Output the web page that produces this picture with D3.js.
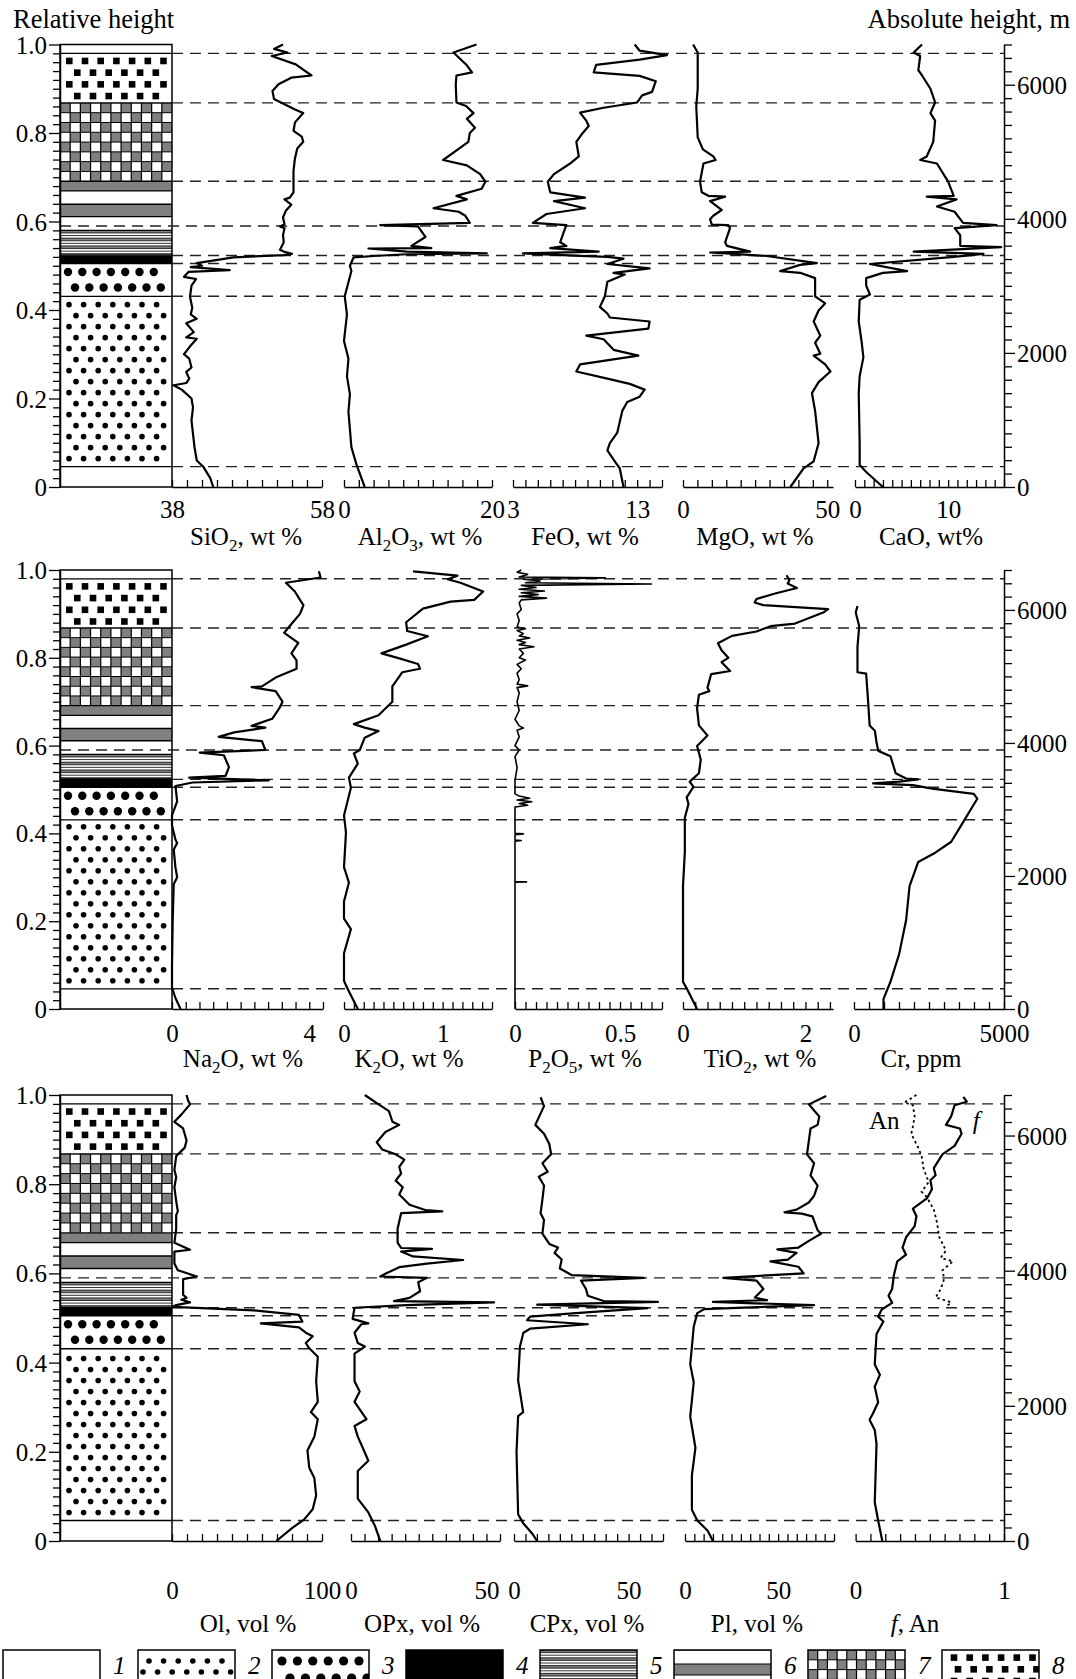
<!DOCTYPE html>
<html><head><meta charset="utf-8">
<script src="https://cdn.jsdelivr.net/npm/d3@7"></script>
<style>
body{margin:0;background:#fff}
svg{display:block}
text{font-family:"Liberation Serif","Times New Roman",Times,serif;fill:#000}
</style></head>
<body><svg id="chart" width="1076" height="1679"></svg>
<script>
// ---------------- DATA ----------------
const relTicksMajor = [0, 0.2, 0.4, 0.6, 0.8, 1.0];
const absTicksMajor = [0, 2000, 4000, 6000];
const absTop = 6600;
const dashedLevels = [0.980, 0.868, 0.691, 0.590, 0.523, 0.505, 0.431, 0.046];
const layerBounds = [0, 0.046, 0.431, 0.505, 0.524, 0.580, 0.611, 0.639, 0.669, 0.691, 0.868, 0.980, 1.0];
const layerTypes  = ["white","smallDots","bigDots","black","stripes","white","grey","white","grey","checker","squares","white"];
const legendNumbers = ["1","2","3","4","5","6","7","8"];
const legendTypes = ["white","smallDots","bigDots","black","stripes","bands","checker","squares"];

// [relative height, value]
const sio2 = [[1.0,52.8],[0.99,51.6],[0.982,53.4],[0.974,51.3],[0.955,54.5],[0.93,56.6],[0.925,53.9],[0.91,52.2],[0.895,51.4],[0.877,51.6],[0.865,53.0],[0.853,54.4],[0.845,55.5],[0.824,54.4],[0.805,54.2],[0.792,55.3],[0.78,55.5],[0.765,54.7],[0.743,54.4],[0.715,54.2],[0.69,54.2],[0.666,54.2],[0.654,53.7],[0.65,53.0],[0.638,53.9],[0.625,53.2],[0.609,52.8],[0.594,53.0],[0.589,52.4],[0.585,53.0],[0.569,52.8],[0.553,52.9],[0.536,52.4],[0.532,52.9],[0.527,54.0],[0.524,52.9],[0.519,46.2],[0.506,41.3],[0.5,42.0],[0.497,40.5],[0.49,45.7],[0.486,40.2],[0.475,39.6],[0.47,41.2],[0.455,40.6],[0.43,40.4],[0.405,40.7],[0.39,40.5],[0.38,41.3],[0.37,39.9],[0.35,40.9],[0.338,39.9],[0.335,41.3],[0.32,40.5],[0.3,39.6],[0.29,40.3],[0.27,40.6],[0.26,39.9],[0.245,40.3],[0.235,39.9],[0.23,38.2],[0.22,39.3],[0.2,40.6],[0.18,40.8],[0.15,40.6],[0.12,40.8],[0.09,41.0],[0.06,41.3],[0.045,42.2],[0.02,43.1],[0,43.5]];
const al2o3 = [[1.0,17.9],[0.982,14.8],[0.953,16.6],[0.937,17.3],[0.93,15.2],[0.909,15.1],[0.869,15.2],[0.861,16.5],[0.845,17.5],[0.832,16.6],[0.812,17.7],[0.8,17.0],[0.78,16.8],[0.763,15.4],[0.739,13.4],[0.727,16.6],[0.707,18.4],[0.69,19.1],[0.674,18.6],[0.658,15.2],[0.65,16.6],[0.63,12.1],[0.622,15.5],[0.613,16.4],[0.597,17.0],[0.592,4.9],[0.589,10.0],[0.565,11.0],[0.545,9.1],[0.54,11.8],[0.539,3.3],[0.532,8.5],[0.528,19.3],[0.526,8.5],[0.522,4.0],[0.519,1.3],[0.5,0.8],[0.488,1.0],[0.431,0.1],[0.39,0.4],[0.33,0.0],[0.29,0.6],[0.25,0.4],[0.21,0.8],[0.17,0.6],[0.13,0.8],[0.09,1.0],[0.05,1.7],[0,2.8]];
const feo = [[1.0,12.8],[0.986,13.2],[0.976,15.4],[0.966,13.2],[0.954,9.7],[0.937,9.5],[0.929,13.2],[0.917,14.5],[0.893,14.2],[0.885,13.4],[0.869,13.0],[0.857,10.3],[0.846,8.4],[0.828,8.9],[0.816,9.1],[0.796,8.5],[0.78,8.1],[0.747,8.3],[0.731,7.6],[0.707,6.3],[0.69,5.8],[0.666,6.0],[0.654,8.8],[0.646,6.3],[0.63,8.8],[0.617,5.7],[0.597,4.6],[0.592,7.3],[0.577,7.1],[0.553,6.8],[0.545,7.3],[0.54,6.0],[0.532,9.9],[0.528,3.8],[0.523,7.9],[0.52,10.6],[0.516,11.9],[0.504,10.6],[0.494,14.0],[0.484,11.1],[0.48,12.0],[0.464,10.6],[0.431,10.4],[0.407,10.0],[0.392,10.6],[0.383,10.8],[0.374,14.0],[0.358,13.9],[0.342,8.9],[0.334,10.3],[0.31,11.1],[0.297,13.1],[0.277,8.4],[0.261,8.1],[0.245,10.6],[0.233,12.4],[0.22,13.6],[0.204,13.2],[0.192,12.2],[0.172,11.8],[0.123,11.4],[0.099,10.8],[0.083,10.6],[0.062,11.1],[0.042,11.6],[0,11.9]];
const mgo = [[1.0,3.5],[0.982,5.1],[0.9,5.1],[0.86,4.6],[0.79,5.1],[0.763,6.9],[0.747,10.5],[0.739,11.3],[0.731,7.1],[0.69,5.9],[0.666,6.5],[0.658,8.8],[0.656,14.6],[0.646,9.4],[0.626,13.4],[0.613,10.5],[0.605,9.4],[0.593,10.0],[0.592,15.7],[0.585,16.3],[0.553,14.6],[0.545,15.2],[0.532,23.3],[0.53,9.4],[0.527,17.5],[0.522,29.1],[0.506,46.4],[0.502,40.6],[0.488,33.7],[0.484,40.6],[0.472,45.8],[0.431,45.8],[0.415,49.3],[0.399,47.0],[0.374,45.3],[0.342,47.6],[0.326,45.8],[0.301,47.6],[0.297,45.3],[0.277,49.3],[0.261,51.1],[0.237,47.0],[0.212,44.7],[0.172,45.8],[0.099,47.0],[0.058,45.3],[0.042,41.8],[0,37.2]];
const cao = [[1.0,7.2],[0.982,6.3],[0.974,7.0],[0.942,6.8],[0.93,7.2],[0.9,8.1],[0.869,8.6],[0.845,8.1],[0.828,8.6],[0.78,8.4],[0.747,7.7],[0.739,7.0],[0.731,8.8],[0.69,10.0],[0.658,10.6],[0.656,7.7],[0.65,10.9],[0.634,8.8],[0.622,10.7],[0.597,11.6],[0.592,15.2],[0.585,10.7],[0.569,11.3],[0.545,11.3],[0.542,15.7],[0.532,6.3],[0.527,13.8],[0.52,10.6],[0.504,1.6],[0.488,5.6],[0.484,3.0],[0.472,1.2],[0.455,1.2],[0.435,1.6],[0.423,0.5],[0.374,0.4],[0.33,0.7],[0.293,0.9],[0.25,0.5],[0.212,0.4],[0.1,0.5],[0.05,0.5],[0.034,1.2],[0,3.0]];

const na2o = [[0.997,4.28],[0.983,4.33],[0.971,3.32],[0.951,3.58],[0.932,3.73],[0.92,3.83],[0.9,3.73],[0.877,3.48],[0.857,3.27],[0.834,3.68],[0.81,3.48],[0.794,3.63],[0.775,3.63],[0.755,3.02],[0.735,2.62],[0.733,2.32],[0.724,3.02],[0.7,3.22],[0.684,3.12],[0.661,2.92],[0.645,2.32],[0.641,2.72],[0.63,1.81],[0.62,1.36],[0.61,2.62],[0.59,2.72],[0.584,0.81],[0.578,1.51],[0.551,1.66],[0.531,1.56],[0.527,0.5],[0.521,2.82],[0.516,0.6],[0.508,0.1],[0.473,0.15],[0.441,0.0],[0.418,0.0],[0.386,0.1],[0.378,0.15],[0.363,0.05],[0.323,0.1],[0.3,0.15],[0.284,0.05],[0.2,0.02],[0.1,0.0],[0.049,0.0],[0.025,0.1],[0,0.25]];
const k2o = [[0.997,0.70],[0.987,1.15],[0.979,1.05],[0.971,1.18],[0.951,1.41],[0.932,1.32],[0.928,1.08],[0.912,0.80],[0.881,0.63],[0.861,0.64],[0.849,0.85],[0.83,0.63],[0.81,0.38],[0.798,0.57],[0.786,0.75],[0.775,0.77],[0.767,0.59],[0.735,0.49],[0.7,0.49],[0.669,0.35],[0.649,0.10],[0.641,0.21],[0.633,0.35],[0.618,0.21],[0.59,0.16],[0.582,0.10],[0.559,0.14],[0.527,0.05],[0.504,0.07],[0.441,0.0],[0.402,0.02],[0.323,0.0],[0.288,0.05],[0.245,0.0],[0.206,0.0],[0.182,0.07],[0.127,0.0],[0.064,0.0],[0.049,0.03],[0,0.14]];
const p2o5 = [[1.0,0.03],[0.995,0.01],[0.99,0.06],[0.984,0.02],[0.982,0.43],[0.979,0.04],[0.975,0.12],[0.971,0.05],[0.968,0.65],[0.965,0.03],[0.96,0.1],[0.956,0.02],[0.952,0.14],[0.948,0.03],[0.944,0.11],[0.94,0.02],[0.936,0.15],[0.932,0.03],[0.925,0.02],[0.91,0.03],[0.9,0.01],[0.885,0.02],[0.87,0.01],[0.866,0.05],[0.862,0.01],[0.855,0.04],[0.85,0.02],[0.845,0.07],[0.84,0.01],[0.835,0.05],[0.83,0.02],[0.825,0.09],[0.82,0.02],[0.81,0.04],[0.8,0.02],[0.795,0.05],[0.785,0.01],[0.775,0.03],[0.765,0.01],[0.75,0.02],[0.74,0.01],[0.736,0.06],[0.732,0.01],[0.72,0.02],[0.7,0.01],[0.68,0.02],[0.66,0.0],[0.645,0.02],[0.64,0.04],[0.635,0.01],[0.62,0.02],[0.6,0.0],[0.59,0.02],[0.575,0.0],[0.55,0.01],[0.52,0.0],[0.49,0.0],[0.485,0.02],[0.48,0.07],[0.476,0.01],[0.472,0.08],[0.468,0.02],[0.464,0.06],[0.46,0.0],[0.45,0.0],[0.4,0.0],[0.399,0.04],[0.397,0.0],[0.385,0.0],[0.384,0.03],[0.382,0.0],[0.29,0.0],[0.2895,0.055],[0.289,0.0],[0,0.0]];
const tio2 = [[0.988,1.69],[0.977,1.74],[0.969,1.71],[0.959,1.86],[0.946,1.49],[0.934,1.2],[0.926,1.17],[0.92,1.31],[0.911,2.37],[0.903,2.29],[0.878,1.83],[0.872,1.43],[0.86,1.2],[0.85,0.8],[0.833,0.57],[0.817,0.63],[0.8,0.74],[0.79,0.63],[0.77,0.77],[0.763,0.46],[0.732,0.4],[0.724,0.43],[0.716,0.26],[0.685,0.23],[0.646,0.26],[0.623,0.4],[0.599,0.23],[0.568,0.29],[0.537,0.26],[0.518,0.11],[0.506,0.17],[0.482,0.06],[0.467,0.09],[0.436,0.03],[0.358,0.03],[0.28,0.0],[0.062,0.0],[0.047,0.06],[0,0.23]];
const cr = [[0.918,116],[0.903,58],[0.872,174],[0.825,116],[0.767,116],[0.764,405],[0.708,463],[0.646,521],[0.634,694],[0.607,752],[0.588,810],[0.576,1215],[0.537,1389],[0.525,1736],[0.523,2141],[0.518,1500],[0.514,637],[0.51,1968],[0.502,2604],[0.49,3993],[0.479,4109],[0.42,3588],[0.381,3241],[0.354,2662],[0.335,2141],[0.28,1852],[0.202,1736],[0.125,1505],[0.062,1215],[0.023,984],[0,984]];

const ol = [[1.0,9.7],[0.987,10.8],[0.979,12.0],[0.956,6.2],[0.94,1.6],[0.925,7.4],[0.898,9.7],[0.882,8.5],[0.863,2.8],[0.832,1.6],[0.816,2.8],[0.793,1.6],[0.762,2.8],[0.739,3.9],[0.731,2.8],[0.7,2.8],[0.669,1.6],[0.653,12.0],[0.649,1.6],[0.622,1.6],[0.607,3.9],[0.593,16.6],[0.587,7.4],[0.552,7.4],[0.545,9.7],[0.541,6.2],[0.535,12.0],[0.529,2.8],[0.525,0.5],[0.517,54.6],[0.507,84.6],[0.492,86.9],[0.488,59.2],[0.479,84.6],[0.467,89.2],[0.459,93.8],[0.444,89.2],[0.432,91.5],[0.413,97.2],[0.358,96.1],[0.312,97.2],[0.289,92.6],[0.273,97.2],[0.234,94.9],[0.203,90.3],[0.164,91.5],[0.141,94.9],[0.102,96.1],[0.071,93.8],[0.048,88.0],[0.029,80.0],[0,69.6]];
const opx = [[1.0,5.1],[0.979,10.2],[0.964,14.0],[0.94,15.3],[0.933,17.8],[0.917,12.7],[0.894,9.5],[0.878,11.5],[0.867,16.5],[0.855,19.7],[0.839,17.8],[0.824,18.5],[0.808,16.5],[0.793,19.1],[0.777,17.8],[0.754,21.6],[0.742,27.4],[0.739,33.7],[0.735,18.5],[0.7,17.2],[0.669,17.2],[0.657,18.5],[0.655,29.9],[0.649,18.5],[0.638,22.9],[0.63,41.4],[0.622,28.0],[0.614,17.8],[0.599,12.7],[0.593,10.8],[0.59,28.0],[0.58,24.8],[0.56,25.5],[0.545,21.6],[0.538,15.9],[0.535,52.8],[0.529,20.4],[0.523,1.3],[0.498,0.6],[0.488,6.4],[0.486,3.8],[0.467,1.3],[0.444,2.5],[0.436,5.1],[0.42,1.3],[0.358,1.3],[0.335,3.2],[0.312,1.3],[0.273,5.7],[0.258,1.3],[0.234,2.5],[0.207,4.5],[0.18,6.4],[0.157,2.5],[0.095,2.5],[0.064,6.4],[0.033,8.9],[0,10.8]];
const cpx = [[0.995,11.6],[0.975,13.1],[0.933,9.3],[0.913,13.1],[0.89,15.4],[0.867,16.2],[0.847,12.4],[0.828,14.7],[0.817,10.8],[0.797,13.1],[0.766,12.4],[0.735,11.6],[0.72,13.1],[0.689,12.4],[0.666,15.4],[0.658,19.2],[0.646,17.7],[0.631,20.8],[0.611,20.0],[0.596,25.3],[0.59,56.6],[0.584,29.2],[0.565,31.4],[0.55,32.2],[0.538,39.1],[0.536,62.8],[0.53,10.1],[0.522,58.2],[0.511,26.9],[0.503,7.0],[0.495,5.7],[0.486,32.2],[0.476,7.0],[0.467,4.1],[0.436,2.6],[0.36,1.8],[0.289,4.0],[0.28,1.8],[0.2,1.1],[0.06,1.8],[0.04,4.0],[0.017,7.9],[0,10.1]];
const pl = [[0.998,75.8],[0.979,66.5],[0.952,72.1],[0.933,71.2],[0.925,67.4],[0.867,65.5],[0.847,69.3],[0.82,67.4],[0.797,71.2],[0.774,69.3],[0.759,66.5],[0.743,59.9],[0.737,53.4],[0.734,62.7],[0.728,68.4],[0.697,71.2],[0.689,73.0],[0.673,66.5],[0.658,60.9],[0.654,49.6],[0.646,59.9],[0.631,55.2],[0.627,45.9],[0.615,60.9],[0.6,63.7],[0.59,20.6],[0.584,38.4],[0.565,42.1],[0.546,37.5],[0.54,44.0],[0.536,15.0],[0.533,37.5],[0.529,69.3],[0.52,10.3],[0.511,6.6],[0.481,4.7],[0.435,3.7],[0.396,2.8],[0.356,4.7],[0.279,2.8],[0.209,5.6],[0.147,3.7],[0.07,3.7],[0.046,6.6],[0.023,12.2],[0,15.0]];
const fRatio = [[0.996,0.726],[0.985,0.749],[0.977,0.667],[0.952,0.644],[0.933,0.609],[0.925,0.703],[0.913,0.714],[0.886,0.667],[0.867,0.585],[0.836,0.527],[0.82,0.539],[0.809,0.504],[0.789,0.515],[0.768,0.48],[0.745,0.386],[0.728,0.41],[0.706,0.398],[0.681,0.34],[0.658,0.316],[0.642,0.34],[0.627,0.281],[0.596,0.258],[0.565,0.246],[0.55,0.222],[0.534,0.246],[0.519,0.176],[0.503,0.152],[0.492,0.187],[0.464,0.141],[0.396,0.129],[0.373,0.164],[0.346,0.129],[0.311,0.152],[0.286,0.117],[0.272,0.094],[0.249,0.129],[0.218,0.141],[0.087,0.129],[0.046,0.152],[0,0.18]];
const anorthite = [[1.0,0.41],[0.983,0.328],[0.977,0.386],[0.952,0.398],[0.929,0.386],[0.913,0.375],[0.882,0.422],[0.863,0.445],[0.836,0.457],[0.805,0.492],[0.783,0.445],[0.771,0.48],[0.743,0.527],[0.712,0.55],[0.683,0.562],[0.651,0.609],[0.635,0.574],[0.627,0.656],[0.607,0.585],[0.588,0.597],[0.565,0.574],[0.546,0.539],[0.538,0.621],[0.534,0.644],[0.526,0.609]];

// axis specs: [domainMin, domainMax, tickStep, labelled ticks]
const axisSiO2 = [38, 58, 2, [38, 58]];
const axisAl2O3 = [0, 20, 2, [0, 20]];
const axisFeO = [3, 15, 1, [3, 13]];
const axisMgO = [0, 52, 5, [0, 50]];
const axisCaO = [0, 16, 1, [0, 10]];
const axisNa2O = [0, 4.4, 0.4, [0, 4]];
const axisK2O = [0, 1.5, 0.1, [0, 1]];
const axisP2O5 = [0, 0.7, 0.05, [0, 0.5]];
const axisTiO2 = [0, 2.45, 0.2, [0, 2]];
const axisCr = [0, 5000, 500, [0, 5000]];
const axisOl = [0, 100, 10, [0, 100]];
const axisOPx = [0, 55, 5, [0, 50]];
const axisCPx = [0, 65, 5, [0, 50]];
const axisPl = [0, 80, 5, [0, 50]];
const axisF = [0, 1, 0.1, [0, 1]];

const titleSiO2 = [["SiO"],["2","sub"],[", wt %"]];
const titleAl2O3 = [["Al"],["2","sub"],["O"],["3","sub"],[", wt %"]];
const titleFeO = [["FeO, wt %"]];
const titleMgO = [["MgO, wt %"]];
const titleCaO = [["CaO, wt%"]];
const titleNa2O = [["Na"],["2","sub"],["O, wt %"]];
const titleK2O = [["K"],["2","sub"],["O, wt %"]];
const titleP2O5 = [["P"],["2","sub"],["O"],["5","sub"],[", wt %"]];
const titleTiO2 = [["TiO"],["2","sub"],[", wt %"]];
const titleCr = [["Cr, ppm"]];
const titleOl = [["Ol, vol %"]];
const titleOPx = [["OPx, vol %"]];
const titleCPx = [["CPx, vol %"]];
const titlePl = [["Pl, vol %"]];
const titleF = [["f","it"],[", An"]];

// ---------------- LAYOUT ----------------
const FONT = '"Liberation Serif","Times New Roman",Times,serif';
const FS = 25;
const colX0 = 60, colX1 = 172, rightX = 1004;
const panels = [
  {top:44.5, bottom:487, titleBase:545, pad:13,
   series:[
    {data:sio2, axis:axisSiO2, x:[172,322], title:titleSiO2, tx:246},
    {data:al2o3, axis:axisAl2O3, x:[344,492], title:titleAl2O3, tx:420},
    {data:feo, axis:axisFeO, x:[513,662], title:titleFeO, tx:585},
    {data:mgo, axis:axisMgO, x:[683,833], title:titleMgO, tx:755},
    {data:cao, axis:axisCaO, x:[855,1004], title:titleCaO, tx:931}]},
  {top:570, bottom:1009, titleBase:1067, pad:15,
   series:[
    {data:na2o, axis:axisNa2O, x:[172,323], title:titleNa2O, tx:243},
    {data:k2o, axis:axisK2O, x:[344,492], title:titleK2O, tx:409},
    {data:p2o5, axis:axisP2O5, x:[515,662], title:titleP2O5, tx:585, thin:true},
    {data:tio2, axis:axisTiO2, x:[683,833], title:titleTiO2, tx:760},
    {data:cr, axis:axisCr, x:[854,1004], title:titleCr, tx:921}]},
  {top:1095, bottom:1541, titleBase:1632, pad:40,
   series:[
    {data:ol, axis:axisOl, x:[172,322], title:titleOl, tx:248},
    {data:opx, axis:axisOPx, x:[351,500], title:titleOPx, tx:422},
    {data:cpx, axis:axisCPx, x:[514,663], title:titleCPx, tx:587},
    {data:pl, axis:axisPl, x:[685,834], title:titlePl, tx:757},
    {data:fRatio, axis:axisF, x:[855.6,1004], title:titleF, tx:915, extra:anorthite}]}
];

const svg = d3.select("#chart");

function rich(sel, parts, size){
  let sub = false;
  parts.forEach(p=>{
    const t = sel.append("tspan").text(p[0]);
    if (p[1]==="sub"){ t.attr("font-size", size*0.68).attr("dy", size*0.25); sub = true; }
    else { if (sub){ t.attr("dy", -size*0.25); sub=false; } }
    if (p[1]==="it") t.attr("font-style","italic");
  });
}
function styleAxis(ax){
  ax.attr("font-family", FONT).attr("font-size", FS);
  ax.select(".domain").attr("stroke-width",1.5);
  ax.selectAll(".tick line").attr("stroke-width",1.3);
  ax.selectAll(".tick text").filter(function(){ return this.textContent===""; }).remove();
  ax.selectAll(".tick text").attr("font-size",FS).attr("font-family",FONT);
}

let clipN = 0;
function fillBlock(g, type, x0, x1, yT, yB, legend){
  const w = x1-x0, h = yB-yT;
  const cid = "clip"+(clipN++);
  g.append("clipPath").attr("id",cid).append("rect").attr("x",x0).attr("y",yT).attr("width",w).attr("height",h);
  const base = g.append("g").attr("clip-path",`url(#${cid})`);
  const bg = (type==="black")?"#000":(type==="grey")?"#808080":"#fff";
  base.append("rect").attr("x",x0).attr("y",yT).attr("width",w).attr("height",h).attr("fill",bg);
  if (type==="smallDots"){
    const dy=11, dx=14.6, r=2.8;
    let k=0;
    if (!legend){
      for (let y=yB-8; y>yT+4; y-=dy, k++){
        const s = x0 + (k%2===0?9:16);
        for (let i=0;i<7;i++) base.append("circle").attr("cx",s+i*dx).attr("cy",y).attr("r",r).attr("fill","#000");
      }
    } else {
      for (let y=yT+11; y<yB+5; y+=dy, k++){
        const s = x0 + (k%2===0?11:5);
        const n = k%2===0?6:7;
        for (let i=0;i<n;i++) base.append("circle").attr("cx",s+i*dx).attr("cy",y).attr("r",r).attr("fill","#000");
      }
    }
  } else if (type==="bigDots"){
    const dy = legend?17:15.5, dx = legend?15.4:14.3, r = legend?4.6:4.2;
    let k=0;
    for (let y=yT+(legend?11:8.5); y<yB+(legend?6:-3); y+=dy, k++){
      const s = x0 + (legend ? (k%2===0?10:18) : (k%2===0?8:15));
      const n = legend?6:7;
      for (let i=0;i<n;i++) base.append("circle").attr("cx",s+i*dx).attr("cy",y).attr("r",r).attr("fill","#000");
    }
  } else if (type==="squares"){
    const dy=11.7, dx=15.7, sz=6.6;
    let k=0;
    for (let y=yT+7.6; y<yB-3; y+=dy, k++){
      const s = x0 + (legend ? (k%2===0?12:16) : (k%2===0?9.3:17.3));
      const n = legend?6:(k%2===0?7:6);
      for (let i=0;i<n;i++) base.append("rect").attr("x",s+i*dx-sz/2).attr("y",y-sz/2).attr("width",sz).attr("height",sz).attr("fill","#000");
    }
  } else if (type==="checker"){
    const cols = legend?10:11, cw = w/cols;
    const rows = Math.max(1, Math.round(h/9.8)), rh = legend?9.8:h/rows;
    for (let r=0; r*rh<h; r++){
      for (let c=0;c<cols;c++){
        if ((r+c)%2===0) base.append("rect").attr("x",x0+c*cw).attr("y",yT+r*rh).attr("width",cw).attr("height",rh).attr("fill","#808080");
      }
      base.append("line").attr("x1",x0).attr("x2",x1).attr("y1",yT+r*rh).attr("y2",yT+r*rh).attr("stroke","#000").attr("stroke-width",1);
    }
    for (let c=1;c<cols;c++) base.append("line").attr("x1",x0+c*cw).attr("x2",x0+c*cw).attr("y1",yT).attr("y2",yB).attr("stroke","#000").attr("stroke-width",1.2);
  } else if (type==="stripes"){
    const bh = 2.6; let k=0;
    for (let y=yT; y<yB; y+=bh, k++){
      if (k%3!==2) base.append("rect").attr("x",x0).attr("y",y).attr("width",w).attr("height",bh).attr("fill",k%3===0?"#808080":"#fff");
      base.append("line").attr("x1",x0).attr("x2",x1).attr("y1",y).attr("y2",y).attr("stroke","#000").attr("stroke-width",0.8);
    }
  } else if (type==="bands"){
    const bands = [[0,14,"#fff"],[14,25,"#808080"],[25,40,"#fff"],[40,52,"#808080"],[52,70,"#fff"]];
    bands.forEach(b=>{
      base.append("rect").attr("x",x0).attr("y",yT+b[0]).attr("width",w).attr("height",b[1]-b[0]).attr("fill",b[2]);
      base.append("line").attr("x1",x0).attr("x2",x1).attr("y1",yT+b[0]).attr("y2",yT+b[0]).attr("stroke","#000").attr("stroke-width",1.2);
    });
  }
}

panels.forEach((P)=>{
  const g = svg.append("g");
  const y = d3.scaleLinear().domain([0,1]).range([P.bottom, P.top]);
  const yAbs = d3.scaleLinear().domain([0,absTop]).range([P.bottom, P.top]);

  const col = g.append("g");
  for (let i=0;i<layerTypes.length;i++){
    fillBlock(col, layerTypes[i], colX0, colX1, y(layerBounds[i+1]), y(layerBounds[i]), false);
  }
  for (let i=1;i<layerBounds.length-1;i++){
    col.append("line").attr("x1",colX0).attr("x2",colX1).attr("y1",y(layerBounds[i])).attr("y2",y(layerBounds[i])).attr("stroke","#000").attr("stroke-width",1.3);
  }
  col.append("rect").attr("x",colX0).attr("y",P.top).attr("width",colX1-colX0).attr("height",P.bottom-P.top)
     .attr("fill","none").attr("stroke","#000").attr("stroke-width",1.5);

  g.selectAll(".dl").data(dashedLevels).enter().append("line")
    .attr("x1", d => (Math.abs(d-0.590)<1e-6 ? colX0 : colX1)).attr("x2", rightX)
    .attr("y1", d=>y(d)).attr("y2", d=>y(d))
    .attr("stroke","#222").attr("stroke-width",1.4).attr("stroke-dasharray","11,7");

  const leftTicks = d3.range(0, 51).map(i=>i/50);
  const isMaj = d => relTicksMajor.some(m=>Math.abs(m-d)<1e-9);
  const la = g.append("g").attr("transform",`translate(${colX0},0)`)
    .call(d3.axisLeft(y).tickValues(leftTicks).tickSize(7).tickSizeOuter(0)
      .tickFormat(d => isMaj(d) ? (d===0?"0":d3.format(".1f")(d)) : ""));
  la.selectAll(".tick line").attr("x2", d => isMaj(d) ? -11 : -7);
  styleAxis(la);
  la.selectAll(".tick text").attr("x",-13).attr("dy","0.34em");

  const ra = g.append("g").attr("transform",`translate(${rightX},0)`)
    .call(d3.axisRight(yAbs).tickValues(d3.range(0, absTop+1, 200)).tickSize(8).tickSizeOuter(0)
      .tickFormat(d => absTicksMajor.includes(d) ? String(d) : ""));
  ra.selectAll(".tick line").attr("x2", d => absTicksMajor.includes(d) ? 11 : 8);
  styleAxis(ra);
  ra.selectAll(".tick text").attr("x",13).attr("dy","0.34em");

  P.series.forEach(S=>{
    const [d0,d1,step,labels] = S.axis;
    const x = d3.scaleLinear().domain([d0,d1]).range(S.x);
    const tv = d3.range(0, Math.floor((d1-d0)/step+1e-6)+1).map(i=>+(d0+i*step).toFixed(4));
    const ax = g.append("g").attr("transform",`translate(0,${P.bottom})`)
      .call(d3.axisBottom(x).tickValues(tv).tickSize(-7).tickSizeOuter(0).tickPadding(P.pad)
        .tickFormat(v => labels.some(l=>Math.abs(l-v)<1e-9) ? String(v) : ""));
    styleAxis(ax);

    const line = d3.line().x(d=>x(d[1])).y(d=>y(d[0]));
    g.append("path").datum(S.data).attr("d",line).attr("fill","none")
      .attr("stroke","#000").attr("stroke-width", S.thin?1.6:2.2).attr("stroke-linejoin","round");
    if (S.extra){
      g.append("path").datum(S.extra).attr("d",line).attr("fill","none")
        .attr("stroke","#000").attr("stroke-width",1.8).attr("stroke-dasharray","2.5,3");
      g.append("text").attr("x",x(0.09)).attr("y",y(0.944)+9).attr("font-size",FS).text("An");
      g.append("text").attr("x",x(0.79)).attr("y",y(0.944)+9).attr("font-size",FS).attr("font-style","italic").text("f");
    }
    const t = g.append("text").attr("x",S.tx).attr("y",P.titleBase).attr("text-anchor","middle").attr("font-size",FS);
    rich(t, S.title, FS);
  });
});

svg.append("text").attr("x",13).attr("y",28).attr("font-size",26.5).text("Relative height");
svg.append("text").attr("x",1070).attr("y",28).attr("font-size",26.5).attr("text-anchor","end").text("Absolute height, m");

const legendX = [3,138,272,406,540,674,808,942];
const legTop = 1650, legW = 97;
const lg = svg.append("g");
legendTypes.forEach((t,i)=>{
  fillBlock(lg, t, legendX[i], legendX[i]+legW, legTop, 1700, true);
  lg.append("rect").attr("x",legendX[i]).attr("y",legTop).attr("width",legW).attr("height",80)
    .attr("fill","none").attr("stroke","#000").attr("stroke-width",1.5);
  lg.append("text").attr("x",legendX[i]+legW+13).attr("y",1674).attr("font-size",FS)
    .attr("font-style","italic").text(legendNumbers[i]);
});
</script>
</body></html>
